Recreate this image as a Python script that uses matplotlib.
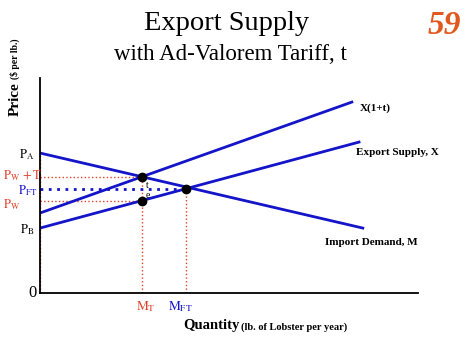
import matplotlib
matplotlib.use("Agg")
import matplotlib.pyplot as plt

plt.rcParams['font.family'] = ['Liberation Serif', 'DejaVu Serif']
plt.rcParams['mathtext.fontset'] = 'stix'

# Curves (quantity, price) endpoints
demand_q = [0, 85.4]
demand_p = [65.1, 30.2]
supply_q = [0, 84.4]
supply_p = [30.2, 70.2]
tariff_q = [0, 82.5]
tariff_p = [37.2, 88.8]

# Key levels
price_A = 65.1
price_WT = 54.0
price_FT = 48.4
price_W = 42.8
price_B = 30.2
qty_T = 27.0
qty_FT = 38.6

price_labels = [r'$\mathrm{P_A}$', r'$\mathrm{P_W\,+T}$', r'$\mathrm{P_{FT}}$', r'$\mathrm{P_W}$', r'$\mathrm{P_B}$']

blue = '#1414C8'
red = '#E0402A'

fig = plt.figure(figsize=(4.74, 3.55), dpi=100)
ax = fig.add_axes([40/474, 62/355, 378/474, 215/355])
ax.set_xlim(0, 100)
ax.set_ylim(0, 100)
for s in ['top', 'right']:
    ax.spines[s].set_visible(False)
for s in ['left', 'bottom']:
    ax.spines[s].set_linewidth(1.3)
ax.set_xticks([])
ax.set_yticks([])
ax.patch.set_alpha(0)

# dotted guides
ax.plot([0, qty_T], [price_WT, price_WT], ls=':', color=red, lw=1.0)
ax.plot([0, qty_T], [price_W, price_W], ls=':', color=red, lw=1.0)
ax.plot([qty_T, qty_T], [0, price_WT], ls=':', color=red, lw=1.0)
ax.plot([qty_FT, qty_FT], [0, price_FT], ls=':', color=red, lw=1.0)
ax.plot([0, 0], [0, price_A], ls=':', color=red, lw=1.0, clip_on=False)
ax.plot([0, qty_FT], [price_FT, price_FT], ls=(0, (1, 2)), color=blue, lw=2.0)

# curves
ax.plot(demand_q, demand_p, color=blue, lw=2.0)
ax.plot(supply_q, supply_p, color=blue, lw=2.0)
ax.plot(tariff_q, tariff_p, color=blue, lw=2.0)

# dots
ax.plot([qty_T, qty_FT, qty_T], [price_WT, price_FT, price_W], 'o', color='black', ms=6)
ax.text(qty_T + 1.0, (price_WT + price_FT) / 2 - 1, 't', fontsize=7, ha='left', va='center')
ax.text(qty_T + 1.0, price_W + 2.5, 'e', fontsize=7, ha='left', va='center')

# price labels
ax.text(-3.5, price_A - 0.5, price_labels[0], fontsize=9, color='black', ha='center', va='center', clip_on=False)
ax.text(-4.6, price_WT + 0.6, price_labels[1], fontsize=9, color=red, ha='center', va='center', clip_on=False)
ax.text(-3.2, price_FT - 0.6, price_labels[2], fontsize=9, color=blue, ha='center', va='center', clip_on=False)
ax.text(-7.4, price_W - 1.5, price_labels[3], fontsize=9, color=red, ha='center', va='center', clip_on=False)
ax.text(-3.5, price_B - 0.5, price_labels[4], fontsize=9, color='black', ha='center', va='center', clip_on=False)
ax.text(-0.8, 0, '0', fontsize=12, ha='right', va='center', clip_on=False)

# quantity labels
ax.text(qty_T + 1.0, -6.5, r'$\mathrm{M_T}$', fontsize=9.5, color=red, ha='center', va='center', clip_on=False)
ax.text(qty_FT - 1.5, -6.5, r'$\mathrm{M_{FT}}$', fontsize=9.5, color=blue, ha='center', va='center', clip_on=False)

# curve labels
ax.text(84.5, 86, 'X(1+t)', fontsize=8, fontweight='bold', ha='left', va='center', clip_on=False)
ax.text(83.5, 65.5, 'Export Supply, X', fontsize=8, fontweight='bold', ha='left', va='center', clip_on=False)
ax.text(75.5, 23.5, 'Import Demand, M', fontsize=8, fontweight='bold', ha='left', va='center', clip_on=False)

# axis titles
fig.text(183/474, 1 - 326/355, 'Quantity', fontsize=10.5, fontweight='bold', ha='left', va='center')
fig.text(241/474, 1 - 327/355, '(lb. of Lobster per year)', fontsize=7.5, fontweight='bold', ha='left', va='center')
fig.text(15/474, 1 - 116/355, 'Price', fontsize=11, fontweight='bold', rotation=90, ha='center', va='bottom')
fig.text(15/474, 1 - 79/355, '($ per lb.)', fontsize=7, fontweight='bold', rotation=90, ha='center', va='bottom')

# titles
fig.text(227/474, 1 - 23/355, 'Export Supply', fontsize=20.5, ha='center', va='center')
fig.text(230/474, 1 - 55/355, 'with Ad-Valorem Tariff, t', fontsize=16.5, ha='center', va='center')
fig.text(444/474, 1 - 26/355, '59', fontsize=24, color='#E05A1E', fontweight='bold', fontstyle='italic', ha='center', va='center')

fig.savefig('out.png', dpi=100)
